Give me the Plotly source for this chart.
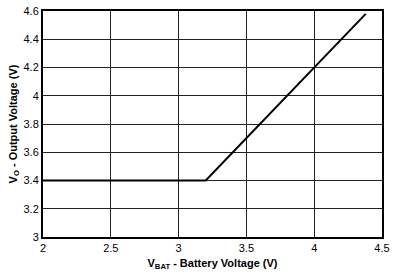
import plotly.graph_objects as go

vbat = [2.0, 3.2, 4.38]
vout = [3.4, 3.4, 4.58]
x_ticks = [2, 2.5, 3, 3.5, 4, 4.5]
x_tick_labels = ["2", "2.5", "3", "3.5", "4", "4.5"]
y_ticks = [3, 3.2, 3.4, 3.6, 3.8, 4, 4.2, 4.4, 4.6]
y_tick_labels = ["3", "3.2", "3.4", "3.6", "3.8", "4", "4.2", "4.4", "4.6"]

fig = go.Figure()
fig.add_trace(go.Scatter(x=vbat, y=vout, mode="lines",
                         line=dict(color="black", width=2), showlegend=False))

font = dict(family="Liberation Sans, Arial, sans-serif", size=11, color="black")
fig.update_layout(
    width=395, height=274,
    margin=dict(l=43, r=11, t=5, b=37),
    paper_bgcolor="white", plot_bgcolor="white",
    font=font,
)
fig.update_xaxes(range=[2, 4.5], tickvals=x_ticks, ticktext=x_tick_labels,
                 showgrid=True, gridcolor="#222", gridwidth=1,
                 showline=True, linecolor="black", linewidth=2, mirror=True,
                 ticks="", zeroline=False,
                 title=dict(text="<b>V<sub>BAT</sub> - Battery Voltage (V)</b>", standoff=6,
                            font=dict(size=11)))
fig.update_yaxes(range=[3, 4.6], tickvals=y_ticks, ticktext=y_tick_labels,
                 showgrid=True, gridcolor="#222", gridwidth=1,
                 showline=True, linecolor="black", linewidth=2, mirror=True,
                 ticks="", zeroline=False,
                 title=dict(text="<b>V<sub>O</sub> - Output Voltage (V)</b>", standoff=4,
                            font=dict(size=11)))
fig.write_html("out.html")
